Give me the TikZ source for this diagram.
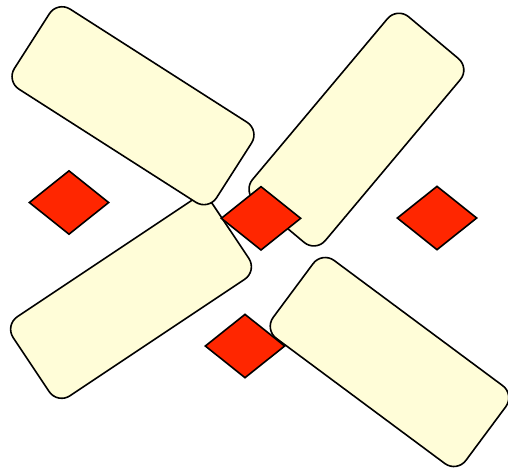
\documentclass[tikz,border=0pt]{standalone}
\usetikzlibrary{shapes.geometric}

\begin{document}
\begin{tikzpicture}[
    x=0.5pt, y=-0.5pt,
    panel/.style = {rectangle, draw=black, fill=paleyellow, line width=0.8pt, rounded corners=7.5pt, minimum width=120pt, minimum height=47.5pt, inner sep=0pt},
    marker/.style = {diamond, draw=black, fill=brightred, line width=0.8pt, minimum width=40pt, minimum height=32pt, inner sep=0pt}
]
    % Colors definition
    \definecolor{paleyellow}{RGB}{255, 253, 216}
    \definecolor{brightred}{RGB}{255, 38, 0}

    \useasboundingbox (0,0) rectangle (508,468);

    % Panels
    \node (sw) [panel, rotate=33.7] at (131,298) {};
    \node (nw) [panel, rotate=-32.6] at (133,105.7) {};
    \node (ne) [panel, rotate=50] at (356.4,129.6) {};
    \node (se) [panel, rotate=-36.6, minimum height=48.5pt] at (389.5,362) {};

    % Diamonds
    \node (west) [marker] at (69,202.5) {};
    \node (mid) [marker] at (261,218.3) {};
    \node (east) [marker] at (437,218) {};
    \node (south) [marker] at (245,346) {};
\end{tikzpicture}
\end{document}
